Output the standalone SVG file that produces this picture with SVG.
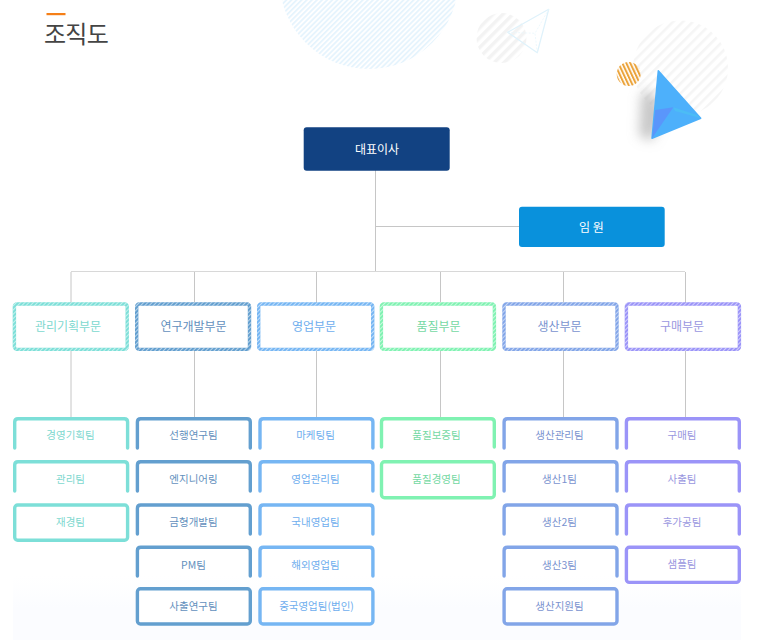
<svg xmlns="http://www.w3.org/2000/svg" width="773" height="640" viewBox="0 0 773 640">
<style>
text{font-family:"Noto Sans CJK KR","Noto Sans",sans-serif;text-anchor:middle}
.d{font-size:12px}.t{font-size:10.5px}
.b{fill:#fff;stroke-width:3.4;stroke-linecap:round;stroke-linejoin:round}
.h{fill:none;stroke:url(#wh);stroke-width:3.4}
.c1 .b{stroke:#7ddfd8}.c1 text{fill:#80d8cf}
.c2 .b{stroke:#639fcf}.c2 text{fill:#6390bd}
.c3 .b{stroke:#76b6f3}.c3 text{fill:#6eaeee}
.c4 .b{stroke:#80f2b2}.c4 text{fill:#74d8a3}
.c5 .b{stroke:#82a5e8}.c5 text{fill:#7a93cf}
.c6 .b{stroke:#9b94f8}.c6 text{fill:#9a97e0}
.l{stroke:#c6c6c6;stroke-width:1;fill:none}
</style>
<defs>
<pattern id="wh" width="3" height="3" patternUnits="userSpaceOnUse" patternTransform="rotate(45)"><rect width="1" height="3" fill="#fff" fill-opacity=".55"/></pattern>
<pattern id="hb" width="3.6" height="3.6" patternUnits="userSpaceOnUse" patternTransform="rotate(45)"><rect width="1.9" height="3.6" fill="#e6f4fd"/></pattern>
<pattern id="hg" width="7" height="7" patternUnits="userSpaceOnUse" patternTransform="rotate(45)"><rect width="3.5" height="7" fill="#f3f3f3"/></pattern>
<pattern id="hg2" width="7" height="7" patternUnits="userSpaceOnUse" patternTransform="rotate(45)"><rect width="2.6" height="7" fill="#f5f5f5"/></pattern>
<pattern id="ho" width="3.6" height="3.6" patternUnits="userSpaceOnUse" patternTransform="rotate(-25)"><rect width="2" height="3.6" fill="#eba33a"/></pattern>
<filter id="bl" x="-60%" y="-60%" width="220%" height="220%"><feGaussianBlur stdDeviation="6"/></filter>
<linearGradient id="bg" x1="0" y1="0" x2="0" y2="1"><stop offset="0" stop-color="#fcfdff" stop-opacity="0"/><stop offset=".5" stop-color="#fbfcff"/><stop offset="1" stop-color="#fbfcff"/></linearGradient>
</defs>
<rect width="773" height="640" fill="#fff"/>
<rect x="13" y="575" width="728" height="65" fill="url(#bg)"/>

<g id="decor">
<circle cx="369" cy="-20.5" r="89.5" fill="url(#hb)"/>
<circle cx="501.5" cy="38" r="25" fill="url(#hg)"/>
<path d="M548.7 9.300L507.7 32.300L537.3 52.700Z" fill="none" stroke="#dff2fb" stroke-width="1.3" stroke-linejoin="round"/>
<path d="M507.7 32.300L535 33.300M548.7 9.300L535 33.300L537.3 52.700" fill="none" stroke="#e9f6fc" stroke-width=".8" stroke-dasharray="2 1.5"/>
<circle cx="680.5" cy="68" r="47.5" fill="url(#hg2)"/>
<circle cx="628.7" cy="74" r="12" fill="url(#ho)"/>
<path d="M650 90L641 94L639 136L652 141L666 112Z" fill="#9a9a9a" fill-opacity=".55" filter="url(#bl)"/>
<path d="M658.3 70.700L700.7 118.300L652 138.300Z" fill="#4db0fb" stroke="#4db0fb" stroke-width="1.5" stroke-linejoin="round"/>
<path d="M655.2 110L673.3 107.300L652 138.300Z" fill="#5a96fb"/>
<path d="M673.3 107.300L697 115L700 118L675 111Z" fill="#4cbcf5"/>
</g>

<g id="title">
<rect x="46.5" y="13" width="19" height="2.2" fill="#f57f17"/>
<text x="76" y="43" font-size="24" letter-spacing="-.7" fill="#444">조직도</text>
</g>

<g id="connectors">
<path class="l" d="M375.5 170V271M375.5 226.5H519"/>
<path d="M71 271.5H685" stroke="#d8d8d8" fill="none"/>
<path class="l" d="M71 272V303M194.5 272V303M316.5 272V303M440.5 272V303M563.5 272V303M685.5 272V303"/>
<path class="l" d="M71 351V418M194.5 351V418M316.5 351V418M440.5 351V418M563.5 351V418M685.5 351V418"/>
</g>

<g id="ceo"><rect x="303.7" y="127.3" width="146" height="43.4" rx="3" fill="#124282"/><text x="377" y="154" font-size="12" fill="#fff">대표이사</text></g>
<g id="exec"><rect x="519" y="206.7" width="145.7" height="40.3" rx="3" fill="#0991dc"/><text x="591.5" y="232" font-size="12" fill="#fff">임 원</text></g>

<g id="div1" class="c1"><rect class="b" x="14.4" y="304" width="112.8" height="45.4" rx="2.5"/><rect class="h" x="14.4" y="304" width="112.8" height="45.4" rx="2.5"/><text class="d" x="68" y="331">관리기획부문</text></g>
<g id="div2" class="c2"><rect class="b" x="136.7" y="304" width="112.8" height="45.4" rx="2.5"/><rect class="h" x="136.7" y="304" width="112.8" height="45.4" rx="2.5"/><text class="d" x="193.5" y="331">연구개발부문</text></g>
<g id="div3" class="c3"><rect class="b" x="258.7" y="304" width="114" height="45.4" rx="2.5"/><rect class="h" x="258.7" y="304" width="114" height="45.4" rx="2.5"/><text class="d" x="314" y="331">영업부문</text></g>
<g id="div4" class="c4"><rect class="b" x="381.4" y="304" width="113" height="45.4" rx="2.5"/><rect class="h" x="381.4" y="304" width="113" height="45.4" rx="2.5"/><text class="d" x="438.5" y="331">품질부문</text></g>
<g id="div5" class="c5"><rect class="b" x="504" y="304" width="113" height="45.4" rx="2.5"/><rect class="h" x="504" y="304" width="113" height="45.4" rx="2.5"/><text class="d" x="559.5" y="331">생산부문</text></g>
<g id="div6" class="c6"><rect class="b" x="626.4" y="304" width="113" height="45.4" rx="2.5"/><rect class="h" x="626.4" y="304" width="113" height="45.4" rx="2.5"/><text class="d" x="682" y="331">구매부문</text></g>

<g id="team1-1" class="c1"><path class="b" d="M14.7 448V422Q14.7 418.7 18 418.7H124.300Q127.600 418.7 127.600 422V448"/><text class="t" x="70.5" y="438.5">경영기획팀</text></g>
<g id="team1-2" class="c1"><path class="b" d="M14.7 491V465Q14.7 461.7 18 461.7H124.300Q127.600 461.7 127.600 465V491"/><text class="t" x="70.5" y="483">관리팀</text></g>
<g id="team1-3" class="c1"><rect class="b" x="14.7" y="505" width="112.9" height="35.3" rx="3"/><text class="t" x="70.5" y="526">재경팀</text></g>

<g id="team2-1" class="c2"><path class="b" d="M137.4 448V422Q137.4 418.7 140.7 418.7H247Q250.300 418.7 250.300 422V448"/><text class="t" x="193.5" y="438.5">선행연구팀</text></g>
<g id="team2-2" class="c2"><path class="b" d="M137.4 491V465Q137.4 461.7 140.7 461.7H247Q250.300 461.7 250.300 465V491"/><text class="t" x="193.5" y="483">엔지니어링</text></g>
<g id="team2-3" class="c2"><path class="b" d="M137.4 534V508.300Q137.4 505 140.7 505H247Q250.300 505 250.300 508.300V534"/><text class="t" x="193.5" y="526">금형개발팀</text></g>
<g id="team2-4" class="c2"><path class="b" d="M137.4 576V550.500Q137.4 547.2 140.7 547.2H247Q250.300 547.2 250.300 550.500V576"/><text class="t" x="193.5" y="568.5">PM팀</text></g>
<g id="team2-5" class="c2"><rect class="b" x="137.4" y="588.8" width="112.9" height="35.2" rx="3"/><text class="t" x="193.5" y="609.5">사출연구팀</text></g>

<g id="team3-1" class="c3"><path class="b" d="M260 448V422Q260 418.7 263.300 418.7H369.600Q372.900 418.7 372.900 422V448"/><text class="t" x="315.5" y="438.5">마케팅팀</text></g>
<g id="team3-2" class="c3"><path class="b" d="M260 491V465Q260 461.7 263.300 461.7H369.600Q372.900 461.7 372.900 465V491"/><text class="t" x="315.5" y="483">영업관리팀</text></g>
<g id="team3-3" class="c3"><path class="b" d="M260 534V508.300Q260 505 263.300 505H369.600Q372.900 505 372.900 508.300V534"/><text class="t" x="315.5" y="526">국내영업팀</text></g>
<g id="team3-4" class="c3"><path class="b" d="M260 576V550.500Q260 547.2 263.300 547.2H369.600Q372.900 547.2 372.900 550.500V576"/><text class="t" x="315.5" y="568.5">해외영업팀</text></g>
<g id="team3-5" class="c3"><rect class="b" x="260" y="588.8" width="112.9" height="35.2" rx="3"/><text class="t" x="316.5" y="609.5">중국영업팀(법인)</text></g>

<g id="team4-1" class="c4"><path class="b" d="M381.5 447V422Q381.5 418.7 384.800 418.7H491Q494.300 418.7 494.300 422V447"/><text class="t" x="436.5" y="438.5">품질보증팀</text></g>
<g id="team4-2" class="c4"><rect class="b" x="381.5" y="461.7" width="112.8" height="36" rx="3"/><text class="t" x="436.5" y="483">품질경영팀</text></g>

<g id="team5-1" class="c5"><path class="b" d="M504.1 448V422Q504.1 418.7 507.400 418.7H613.700Q617 418.7 617 422V448"/><text class="t" x="559.5" y="438.5">생산관리팀</text></g>
<g id="team5-2" class="c5"><path class="b" d="M504.1 491V465Q504.1 461.7 507.400 461.7H613.700Q617 461.7 617 465V491"/><text class="t" x="559.5" y="483">생산1팀</text></g>
<g id="team5-3" class="c5"><path class="b" d="M504.1 534V508.300Q504.1 505 507.400 505H613.700Q617 505 617 508.300V534"/><text class="t" x="559.5" y="526">생산2팀</text></g>
<g id="team5-4" class="c5"><path class="b" d="M504.1 576V550.500Q504.1 547.2 507.400 547.2H613.700Q617 547.2 617 550.500V576"/><text class="t" x="559.5" y="568.5">생산3팀</text></g>
<g id="team5-5" class="c5"><rect class="b" x="504.1" y="588.8" width="112.9" height="35.2" rx="3"/><text class="t" x="559.5" y="609.5">생산지원팀</text></g>

<g id="team6-1" class="c6"><path class="b" d="M626.4 448V422Q626.4 418.7 629.700 418.7H736Q739.300 418.7 739.300 422V448"/><text class="t" x="682" y="438.5">구매팀</text></g>
<g id="team6-2" class="c6"><path class="b" d="M626.4 491V465Q626.4 461.7 629.700 461.7H736Q739.300 461.7 739.300 465V491"/><text class="t" x="682" y="483">사출팀</text></g>
<g id="team6-3" class="c6"><path class="b" d="M626.4 534V508.300Q626.4 505 629.700 505H736Q739.300 505 739.300 508.300V534"/><text class="t" x="682" y="526">후가공팀</text></g>
<g id="team6-4" class="c6"><rect class="b" x="626.4" y="547.2" width="112.9" height="35.2" rx="3"/><text class="t" x="682" y="568">샘플팀</text></g>
</svg>
